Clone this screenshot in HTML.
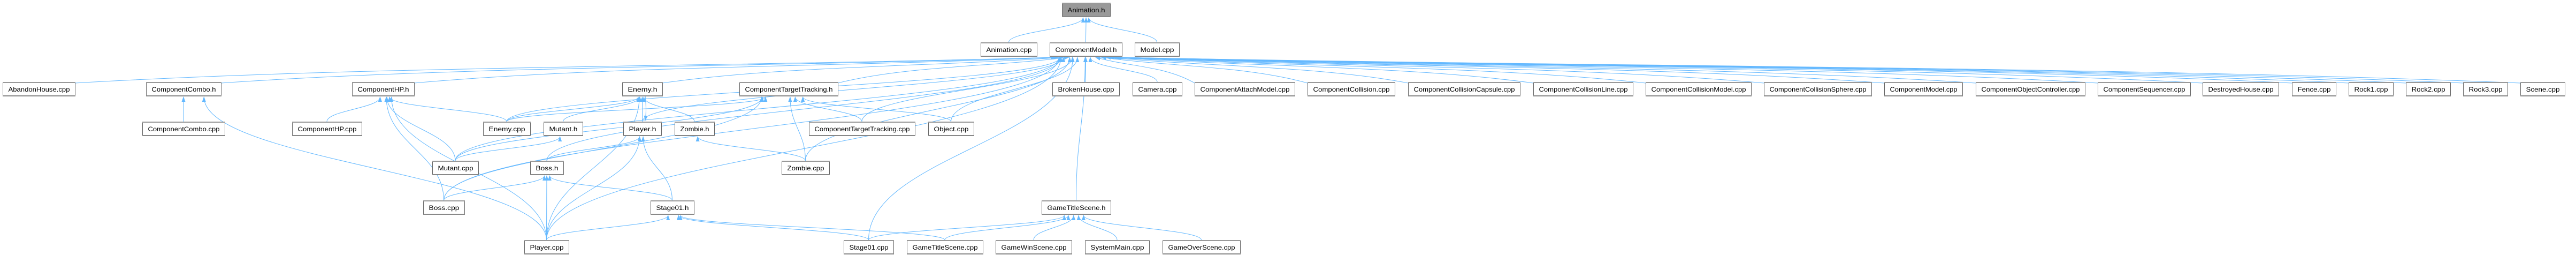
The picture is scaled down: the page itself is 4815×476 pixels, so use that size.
<!DOCTYPE html>
<html><head><meta charset="utf-8">
<style>
html,body{margin:0;padding:0;background:#fff;}
svg{display:block;}
text{font-family:"Liberation Sans",Arial,sans-serif;font-size:12px;fill:#000;}
</style></head>
<body>
<svg id="g" width="4815" height="476" xmlns="http://www.w3.org/2000/svg">
<defs>
<marker id="ah" viewBox="0 0 10 10" refX="9" refY="5" markerWidth="10" markerHeight="10" markerUnits="userSpaceOnUse" orient="auto">
<path d="M0,1.5 L10,5 L0,8.5 z" fill="#63b8ff"/></marker>
</defs>
<g id="edges" fill="none" stroke="#63b8ff" stroke-width="1"></g>
<g id="nodes"></g>
</svg>
<script>
var R=[5,79,153,227,300,374,448],H=26;
var N={
"Animation.h":[1985,2075,0],
"Animation.cpp":[1833,1938,1],"ComponentModel.h":[1962,2097,1],"Model.cpp":[2121,2204,1],
"AbandonHouse.cpp":[5,140,2],"ComponentCombo.h":[273,413,2],"ComponentHP.h":[658,774,2],"Enemy.h":[1163,1238,2],"ComponentTargetTracking.h":[1382,1566,2],
"BrokenHouse.cpp":[1967,2092,2],"Camera.cpp":[2117,2209,2],"ComponentAttachModel.cpp":[2233,2420,2],"ComponentCollision.cpp":[2444,2607,2],"ComponentCollisionCapsule.cpp":[2632,2841,2],"ComponentCollisionLine.cpp":[2866,3052,2],"ComponentCollisionModel.cpp":[3076,3273,2],"ComponentCollisionSphere.cpp":[3297,3498,2],"ComponentModel.cpp":[3522,3668,2],"ComponentObjectController.cpp":[3693,3897,2],"ComponentSequencer.cpp":[3921,4094,2],"DestroyedHouse.cpp":[4117,4259,2],"Fence.cpp":[4284,4366,2],"Rock1.cpp":[4390,4473,2],"Rock2.cpp":[4497,4580,2],"Rock3.cpp":[4604,4687,2],"Scene.cpp":[4711,4794,2],
"ComponentCombo.cpp":[266,420,3],"ComponentHP.cpp":[546,676,3],"Enemy.cpp":[903,991,3],"Mutant.h":[1016,1089,3],"Player.h":[1165,1236,3],"Zombie.h":[1261,1335,3],"ComponentTargetTracking.cpp":[1512,1710,3],"Object.cpp":[1735,1820,3],
"Mutant.cpp":[808,894,4],"Boss.h":[991,1053,4],"Zombie.cpp":[1461,1550,4],
"Boss.cpp":[791,868,5],"Stage01.h":[1216,1297,5],"GameTitleScene.h":[1947,2076,5],
"Player.cpp":[980,1063,6],"Stage01.cpp":[1577,1670,6],"GameTitleScene.cpp":[1695,1837,6],"GameWinScene.cpp":[1861,2003,6],"SystemMain.cpp":[2028,2148,6],"GameOverScene.cpp":[2173,2318,6]
};
var E=[
["Animation.cpp","Animation.h"],["ComponentModel.h","Animation.h"],["Model.cpp","Animation.h"],
["ComponentCombo.cpp","ComponentCombo.h"],["Player.cpp","ComponentCombo.h"],
["ComponentHP.cpp","ComponentHP.h"],["Enemy.cpp","ComponentHP.h"],["Mutant.cpp","ComponentHP.h"],["Boss.cpp","ComponentHP.h"],["Player.cpp","ComponentHP.h"],
["Enemy.cpp","Enemy.h"],["Mutant.h","Enemy.h"],["Player.h","Enemy.h"],["Zombie.h","Enemy.h"],["Player.cpp","Enemy.h"],
["Enemy.cpp","ComponentTargetTracking.h"],["ComponentTargetTracking.cpp","ComponentTargetTracking.h"],["Zombie.cpp","ComponentTargetTracking.h"],["Mutant.cpp","ComponentTargetTracking.h"],["Boss.cpp","ComponentTargetTracking.h"],["Object.cpp","ComponentTargetTracking.h"],
["Mutant.cpp","Mutant.h"],["Boss.h","Player.h"],["Stage01.h","Player.h"],["Player.cpp","Player.h"],
["Zombie.cpp","Zombie.h"],["Boss.cpp","Boss.h"],["Player.cpp","Boss.h"],["Stage01.h","Boss.h"],
["Player.cpp","Stage01.h"],["Stage01.cpp","Stage01.h"],["GameTitleScene.cpp","Stage01.h"],
["Stage01.cpp","GameTitleScene.h"],["GameTitleScene.cpp","GameTitleScene.h"],["GameWinScene.cpp","GameTitleScene.h"],["SystemMain.cpp","GameTitleScene.h"],["GameOverScene.cpp","GameTitleScene.h"]
];
["AbandonHouse.cpp","ComponentCombo.h","ComponentHP.h","Enemy.h","ComponentTargetTracking.h","BrokenHouse.cpp","Camera.cpp","ComponentAttachModel.cpp","ComponentCollision.cpp","ComponentCollisionCapsule.cpp","ComponentCollisionLine.cpp","ComponentCollisionModel.cpp","ComponentCollisionSphere.cpp","ComponentModel.cpp","ComponentObjectController.cpp","ComponentSequencer.cpp","DestroyedHouse.cpp","Fence.cpp","Rock1.cpp","Rock2.cpp","Rock3.cpp","Scene.cpp","Enemy.cpp","Player.h","ComponentTargetTracking.cpp","Object.cpp","Mutant.cpp","Boss.h","Zombie.cpp","Boss.cpp","Player.cpp","Stage01.cpp","GameTitleScene.h"].forEach(function(s){E.push([s,"ComponentModel.h"]);});
var NS="http://www.w3.org/2000/svg",eg=document.getElementById("edges"),ng=document.getElementById("nodes");
function cx(n){return (N[n][0]+N[n][1])/2;}
function tanh(v){var e=Math.exp(2*v);return (e-1)/(e+1);}
E.forEach(function(e){
 var a=N[e[0]],b=N[e[1]];
 var x1=cx(e[0]),y1=R[a[2]],x2=cx(e[1]),y2=R[b[2]]+H+2;
 var w=b[1]-b[0],dx=x1-x2;
 x2=x2+(w/2-10)*tanh(dx/900);
 var dy=y1-y2,d;
 if(e[1]=="ComponentModel.h"&&a[2]==2&&Math.abs(dx)>250){
  if(dx<0){x1=a[1];}else{x1=a[0];}
  y1=R[2]+2;
  var ddx=x2-x1;
  d="M"+x1+","+y1+" C"+(x1+ddx*0.3)+","+(y1-32)+" "+(x2-ddx*0.35)+","+(y2+18)+" "+x2+","+y2;
 } else {
  d="M"+x1+","+y1+" C"+x1+","+(y1-dy*0.45)+" "+x2+","+(y2+dy*0.45)+" "+x2+","+y2;
 }
 var p=document.createElementNS(NS,"path");p.setAttribute("d",d);p.setAttribute("marker-end","url(#ah)");eg.appendChild(p);
});
var p=document.createElementNS(NS,"path");p.setAttribute("d","M1206,179 C1208,200 1208,210 1206,225");p.setAttribute("marker-end","url(#ah)");eg.appendChild(p);
for(var k in N){
 var n=N[k],x=n[0],w=n[1]-n[0],y=R[n[2]];
 var r=document.createElementNS(NS,"rect");
 r.setAttribute("x",x+0.5);r.setAttribute("y",y+0.5);r.setAttribute("width",w);r.setAttribute("height",H);
 r.setAttribute("fill",k=="Animation.h"?"#999999":"#ffffff");r.setAttribute("stroke","#666666");ng.appendChild(r);
 var t1=document.createElementNS(NS,"line");t1.setAttribute("x1",x);t1.setAttribute("x2",x+w+1);t1.setAttribute("y1",y+1);t1.setAttribute("y2",y+1);t1.setAttribute("stroke","#999");t1.setAttribute("stroke-width","2");ng.appendChild(t1);
 var t2=document.createElementNS(NS,"line");t2.setAttribute("x1",x);t2.setAttribute("x2",x+w+1);t2.setAttribute("y1",y+H);t2.setAttribute("y2",y+H);t2.setAttribute("stroke","#888");t2.setAttribute("stroke-width","2");ng.appendChild(t2);
 var t=document.createElementNS(NS,"text");t.setAttribute("x",x+w/2+0.5);t.setAttribute("y",y+18);t.setAttribute("text-anchor","middle");
 t.setAttribute("textLength",Math.max(10,w-20));t.setAttribute("lengthAdjust","spacingAndGlyphs");t.textContent=k;ng.appendChild(t);
}
</script>
</body></html>
